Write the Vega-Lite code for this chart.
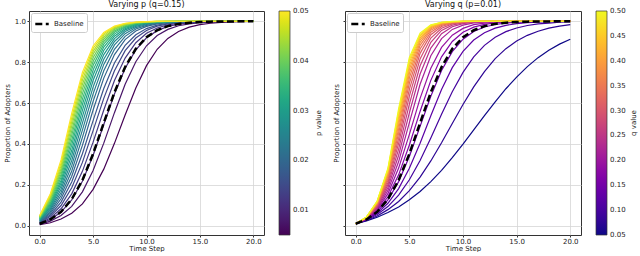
{
"$schema": "https://vega.github.io/schema/vega-lite/v6.json",
"background": "white",
"padding": {"left": 2, "top": 0, "right": 0, "bottom": 0},
"spacing": 9,
"config": {
  "font": "DejaVu Sans",
  "view": {"stroke": "#333333", "strokeWidth": 1},
  "axis": {"labelFontSize": 7, "titleFontSize": 7, "titleFontWeight": "normal", "labelColor": "#222222", "titleColor": "#222222", "tickColor": "#333333", "tickSize": 2, "domain": false, "gridColor": "#d6d6d6", "gridWidth": 0.8, "labelPadding": 1.5, "titlePadding": 2},
  "axisX": {"labelPadding": 0, "titlePadding": 0},
  "title": {"fontSize": 8, "fontWeight": "normal", "color": "#111111", "offset": 2, "anchor": "middle", "frame": "group"}
},
"resolve": {"scale": {"color": "independent", "strokeDash": "independent"}, "legend": {"color": "independent", "strokeDash": "independent"}},
"datasets": {
"B": [
{"s":"Baseline","t":0,"y":0.010},{"s":"Baseline","t":1,"y":0.031},{"s":"Baseline","t":2,"y":0.068},{"s":"Baseline","t":3,"y":0.130},{"s":"Baseline","t":4,"y":0.223},{"s":"Baseline","t":5,"y":0.352},{"s":"Baseline","t":6,"y":0.503},{"s":"Baseline","t":7,"y":0.653},{"s":"Baseline","t":8,"y":0.776},{"s":"Baseline","t":9,"y":0.865},{"s":"Baseline","t":10,"y":0.922},{"s":"Baseline","t":11,"y":0.956},{"s":"Baseline","t":12,"y":0.976},{"s":"Baseline","t":13,"y":0.987},{"s":"Baseline","t":14,"y":0.993},{"s":"Baseline","t":15,"y":0.996},{"s":"Baseline","t":16,"y":0.998},{"s":"Baseline","t":17,"y":0.999},{"s":"Baseline","t":18,"y":0.999},{"s":"Baseline","t":19,"y":1},{"s":"Baseline","t":20,"y":1}
],
"L": [
{"p":0.005,"t":0,"y":0.005},{"p":0.005,"t":1,"y":0.015},{"p":0.005,"t":2,"y":0.033},{"p":0.005,"t":3,"y":0.061},{"p":0.005,"t":4,"y":0.107},{"p":0.005,"t":5,"y":0.178},{"p":0.005,"t":6,"y":0.277},{"p":0.005,"t":7,"y":0.403},{"p":0.005,"t":8,"y":0.542},{"p":0.005,"t":9,"y":0.674},{"p":0.005,"t":10,"y":0.783},{"p":0.005,"t":11,"y":0.863},{"p":0.005,"t":12,"y":0.916},{"p":0.005,"t":13,"y":0.950},{"p":0.005,"t":14,"y":0.971},{"p":0.005,"t":15,"y":0.983},{"p":0.005,"t":16,"y":0.990},{"p":0.005,"t":17,"y":0.994},{"p":0.005,"t":18,"y":0.997},{"p":0.005,"t":19,"y":0.998},{"p":0.005,"t":20,"y":0.999},
{"p":0.0074,"t":0,"y":0.007},{"p":0.0074,"t":1,"y":0.023},{"p":0.0074,"t":2,"y":0.050},{"p":0.0074,"t":3,"y":0.095},{"p":0.0074,"t":4,"y":0.166},{"p":0.0074,"t":5,"y":0.270},{"p":0.0074,"t":6,"y":0.404},{"p":0.0074,"t":7,"y":0.553},{"p":0.0074,"t":8,"y":0.692},{"p":0.0074,"t":9,"y":0.802},{"p":0.0074,"t":10,"y":0.880},{"p":0.0074,"t":11,"y":0.930},{"p":0.0074,"t":12,"y":0.960},{"p":0.0074,"t":13,"y":0.978},{"p":0.0074,"t":14,"y":0.987},{"p":0.0074,"t":15,"y":0.993},{"p":0.0074,"t":16,"y":0.996},{"p":0.0074,"t":17,"y":0.998},{"p":0.0074,"t":18,"y":0.999},{"p":0.0074,"t":19,"y":0.999},{"p":0.0074,"t":20,"y":1},
{"p":0.0097,"t":0,"y":0.010},{"p":0.0097,"t":1,"y":0.031},{"p":0.0097,"t":2,"y":0.067},{"p":0.0097,"t":3,"y":0.126},{"p":0.0097,"t":4,"y":0.218},{"p":0.0097,"t":5,"y":0.344},{"p":0.0097,"t":6,"y":0.495},{"p":0.0097,"t":7,"y":0.644},{"p":0.0097,"t":8,"y":0.770},{"p":0.0097,"t":9,"y":0.860},{"p":0.0097,"t":10,"y":0.919},{"p":0.0097,"t":11,"y":0.954},{"p":0.0097,"t":12,"y":0.975},{"p":0.0097,"t":13,"y":0.986},{"p":0.0097,"t":14,"y":0.992},{"p":0.0097,"t":15,"y":0.996},{"p":0.0097,"t":16,"y":0.998},{"p":0.0097,"t":17,"y":0.999},{"p":0.0097,"t":18,"y":0.999},{"p":0.0097,"t":19,"y":1},{"p":0.0097,"t":20,"y":1},
{"p":0.0121,"t":0,"y":0.012},{"p":0.0121,"t":1,"y":0.038},{"p":0.0121,"t":2,"y":0.083},{"p":0.0121,"t":3,"y":0.156},{"p":0.0121,"t":4,"y":0.266},{"p":0.0121,"t":5,"y":0.409},{"p":0.0121,"t":6,"y":0.566},{"p":0.0121,"t":7,"y":0.710},{"p":0.0121,"t":8,"y":0.820},{"p":0.0121,"t":9,"y":0.895},{"p":0.0121,"t":10,"y":0.941},{"p":0.0121,"t":11,"y":0.967},{"p":0.0121,"t":12,"y":0.982},{"p":0.0121,"t":13,"y":0.990},{"p":0.0121,"t":14,"y":0.995},{"p":0.0121,"t":15,"y":0.997},{"p":0.0121,"t":16,"y":0.999},{"p":0.0121,"t":17,"y":0.999},{"p":0.0121,"t":18,"y":1},{"p":0.0121,"t":19,"y":1},{"p":0.0121,"t":20,"y":1},
{"p":0.0145,"t":0,"y":0.014},{"p":0.0145,"t":1,"y":0.046},{"p":0.0145,"t":2,"y":0.099},{"p":0.0145,"t":3,"y":0.186},{"p":0.0145,"t":4,"y":0.310},{"p":0.0145,"t":5,"y":0.465},{"p":0.0145,"t":6,"y":0.623},{"p":0.0145,"t":7,"y":0.758},{"p":0.0145,"t":8,"y":0.856},{"p":0.0145,"t":9,"y":0.918},{"p":0.0145,"t":10,"y":0.955},{"p":0.0145,"t":11,"y":0.976},{"p":0.0145,"t":12,"y":0.987},{"p":0.0145,"t":13,"y":0.993},{"p":0.0145,"t":14,"y":0.996},{"p":0.0145,"t":15,"y":0.998},{"p":0.0145,"t":16,"y":0.999},{"p":0.0145,"t":17,"y":0.999},{"p":0.0145,"t":18,"y":1},{"p":0.0145,"t":19,"y":1},{"p":0.0145,"t":20,"y":1},
{"p":0.0168,"t":0,"y":0.017},{"p":0.0168,"t":1,"y":0.053},{"p":0.0168,"t":2,"y":0.116},{"p":0.0168,"t":3,"y":0.214},{"p":0.0168,"t":4,"y":0.352},{"p":0.0168,"t":5,"y":0.514},{"p":0.0168,"t":6,"y":0.671},{"p":0.0168,"t":7,"y":0.796},{"p":0.0168,"t":8,"y":0.882},{"p":0.0168,"t":9,"y":0.934},{"p":0.0168,"t":10,"y":0.964},{"p":0.0168,"t":11,"y":0.981},{"p":0.0168,"t":12,"y":0.990},{"p":0.0168,"t":13,"y":0.995},{"p":0.0168,"t":14,"y":0.997},{"p":0.0168,"t":15,"y":0.999},{"p":0.0168,"t":16,"y":0.999},{"p":0.0168,"t":17,"y":1},{"p":0.0168,"t":18,"y":1},{"p":0.0168,"t":19,"y":1},{"p":0.0168,"t":20,"y":1},
{"p":0.0192,"t":0,"y":0.019},{"p":0.0192,"t":1,"y":0.061},{"p":0.0192,"t":2,"y":0.132},{"p":0.0192,"t":3,"y":0.242},{"p":0.0192,"t":4,"y":0.393},{"p":0.0192,"t":5,"y":0.566},{"p":0.0192,"t":6,"y":0.722},{"p":0.0192,"t":7,"y":0.837},{"p":0.0192,"t":8,"y":0.910},{"p":0.0192,"t":9,"y":0.952},{"p":0.0192,"t":10,"y":0.975},{"p":0.0192,"t":11,"y":0.987},{"p":0.0192,"t":12,"y":0.993},{"p":0.0192,"t":13,"y":0.996},{"p":0.0192,"t":14,"y":0.998},{"p":0.0192,"t":15,"y":0.999},{"p":0.0192,"t":16,"y":0.999},{"p":0.0192,"t":17,"y":1},{"p":0.0192,"t":18,"y":1},{"p":0.0192,"t":19,"y":1},{"p":0.0192,"t":20,"y":1},
{"p":0.0216,"t":0,"y":0.022},{"p":0.0216,"t":1,"y":0.068},{"p":0.0216,"t":2,"y":0.148},{"p":0.0216,"t":3,"y":0.268},{"p":0.0216,"t":4,"y":0.432},{"p":0.0216,"t":5,"y":0.608},{"p":0.0216,"t":6,"y":0.758},{"p":0.0216,"t":7,"y":0.863},{"p":0.0216,"t":8,"y":0.926},{"p":0.0216,"t":9,"y":0.962},{"p":0.0216,"t":10,"y":0.980},{"p":0.0216,"t":11,"y":0.990},{"p":0.0216,"t":12,"y":0.995},{"p":0.0216,"t":13,"y":0.998},{"p":0.0216,"t":14,"y":0.998},{"p":0.0216,"t":15,"y":0.999},{"p":0.0216,"t":16,"y":1},{"p":0.0216,"t":17,"y":1},{"p":0.0216,"t":18,"y":1},{"p":0.0216,"t":19,"y":1},{"p":0.0216,"t":20,"y":1},
{"p":0.0239,"t":0,"y":0.024},{"p":0.0239,"t":1,"y":0.076},{"p":0.0239,"t":2,"y":0.163},{"p":0.0239,"t":3,"y":0.294},{"p":0.0239,"t":4,"y":0.468},{"p":0.0239,"t":5,"y":0.645},{"p":0.0239,"t":6,"y":0.789},{"p":0.0239,"t":7,"y":0.884},{"p":0.0239,"t":8,"y":0.939},{"p":0.0239,"t":9,"y":0.969},{"p":0.0239,"t":10,"y":0.984},{"p":0.0239,"t":11,"y":0.993},{"p":0.0239,"t":12,"y":0.996},{"p":0.0239,"t":13,"y":0.998},{"p":0.0239,"t":14,"y":0.999},{"p":0.0239,"t":15,"y":0.999},{"p":0.0239,"t":16,"y":1},{"p":0.0239,"t":17,"y":1},{"p":0.0239,"t":18,"y":1},{"p":0.0239,"t":19,"y":1},{"p":0.0239,"t":20,"y":1},
{"p":0.0263,"t":0,"y":0.026},{"p":0.0263,"t":1,"y":0.083},{"p":0.0263,"t":2,"y":0.179},{"p":0.0263,"t":3,"y":0.319},{"p":0.0263,"t":4,"y":0.502},{"p":0.0263,"t":5,"y":0.678},{"p":0.0263,"t":6,"y":0.814},{"p":0.0263,"t":7,"y":0.901},{"p":0.0263,"t":8,"y":0.950},{"p":0.0263,"t":9,"y":0.975},{"p":0.0263,"t":10,"y":0.987},{"p":0.0263,"t":11,"y":0.994},{"p":0.0263,"t":12,"y":0.997},{"p":0.0263,"t":13,"y":0.999},{"p":0.0263,"t":14,"y":0.999},{"p":0.0263,"t":15,"y":1},{"p":0.0263,"t":16,"y":1},{"p":0.0263,"t":17,"y":1},{"p":0.0263,"t":18,"y":1},{"p":0.0263,"t":19,"y":1},{"p":0.0263,"t":20,"y":1},
{"p":0.0287,"t":0,"y":0.029},{"p":0.0287,"t":1,"y":0.091},{"p":0.0287,"t":2,"y":0.194},{"p":0.0287,"t":3,"y":0.345},{"p":0.0287,"t":4,"y":0.534},{"p":0.0287,"t":5,"y":0.710},{"p":0.0287,"t":6,"y":0.837},{"p":0.0287,"t":7,"y":0.915},{"p":0.0287,"t":8,"y":0.958},{"p":0.0287,"t":9,"y":0.979},{"p":0.0287,"t":10,"y":0.990},{"p":0.0287,"t":11,"y":0.995},{"p":0.0287,"t":12,"y":0.998},{"p":0.0287,"t":13,"y":0.999},{"p":0.0287,"t":14,"y":0.999},{"p":0.0287,"t":15,"y":1},{"p":0.0287,"t":16,"y":1},{"p":0.0287,"t":17,"y":1},{"p":0.0287,"t":18,"y":1},{"p":0.0287,"t":19,"y":1},{"p":0.0287,"t":20,"y":1},
{"p":0.0311,"t":0,"y":0.031},{"p":0.0311,"t":1,"y":0.098},{"p":0.0311,"t":2,"y":0.209},{"p":0.0311,"t":3,"y":0.369},{"p":0.0311,"t":4,"y":0.564},{"p":0.0311,"t":5,"y":0.737},{"p":0.0311,"t":6,"y":0.857},{"p":0.0311,"t":7,"y":0.927},{"p":0.0311,"t":8,"y":0.964},{"p":0.0311,"t":9,"y":0.983},{"p":0.0311,"t":10,"y":0.992},{"p":0.0311,"t":11,"y":0.996},{"p":0.0311,"t":12,"y":0.998},{"p":0.0311,"t":13,"y":0.999},{"p":0.0311,"t":14,"y":1},{"p":0.0311,"t":15,"y":1},{"p":0.0311,"t":16,"y":1},{"p":0.0311,"t":17,"y":1},{"p":0.0311,"t":18,"y":1},{"p":0.0311,"t":19,"y":1},{"p":0.0311,"t":20,"y":1},
{"p":0.0334,"t":0,"y":0.033},{"p":0.0334,"t":1,"y":0.106},{"p":0.0334,"t":2,"y":0.223},{"p":0.0334,"t":3,"y":0.394},{"p":0.0334,"t":4,"y":0.593},{"p":0.0334,"t":5,"y":0.761},{"p":0.0334,"t":6,"y":0.874},{"p":0.0334,"t":7,"y":0.937},{"p":0.0334,"t":8,"y":0.970},{"p":0.0334,"t":9,"y":0.986},{"p":0.0334,"t":10,"y":0.993},{"p":0.0334,"t":11,"y":0.997},{"p":0.0334,"t":12,"y":0.998},{"p":0.0334,"t":13,"y":0.999},{"p":0.0334,"t":14,"y":1},{"p":0.0334,"t":15,"y":1},{"p":0.0334,"t":16,"y":1},{"p":0.0334,"t":17,"y":1},{"p":0.0334,"t":18,"y":1},{"p":0.0334,"t":19,"y":1},{"p":0.0334,"t":20,"y":1},
{"p":0.0358,"t":0,"y":0.036},{"p":0.0358,"t":1,"y":0.113},{"p":0.0358,"t":2,"y":0.238},{"p":0.0358,"t":3,"y":0.418},{"p":0.0358,"t":4,"y":0.619},{"p":0.0358,"t":5,"y":0.784},{"p":0.0358,"t":6,"y":0.888},{"p":0.0358,"t":7,"y":0.946},{"p":0.0358,"t":8,"y":0.974},{"p":0.0358,"t":9,"y":0.988},{"p":0.0358,"t":10,"y":0.995},{"p":0.0358,"t":11,"y":0.997},{"p":0.0358,"t":12,"y":0.999},{"p":0.0358,"t":13,"y":0.999},{"p":0.0358,"t":14,"y":1},{"p":0.0358,"t":15,"y":1},{"p":0.0358,"t":16,"y":1},{"p":0.0358,"t":17,"y":1},{"p":0.0358,"t":18,"y":1},{"p":0.0358,"t":19,"y":1},{"p":0.0358,"t":20,"y":1},
{"p":0.0382,"t":0,"y":0.038},{"p":0.0382,"t":1,"y":0.121},{"p":0.0382,"t":2,"y":0.252},{"p":0.0382,"t":3,"y":0.442},{"p":0.0382,"t":4,"y":0.645},{"p":0.0382,"t":5,"y":0.803},{"p":0.0382,"t":6,"y":0.901},{"p":0.0382,"t":7,"y":0.953},{"p":0.0382,"t":8,"y":0.978},{"p":0.0382,"t":9,"y":0.990},{"p":0.0382,"t":10,"y":0.995},{"p":0.0382,"t":11,"y":0.998},{"p":0.0382,"t":12,"y":0.999},{"p":0.0382,"t":13,"y":1},{"p":0.0382,"t":14,"y":1},{"p":0.0382,"t":15,"y":1},{"p":0.0382,"t":16,"y":1},{"p":0.0382,"t":17,"y":1},{"p":0.0382,"t":18,"y":1},{"p":0.0382,"t":19,"y":1},{"p":0.0382,"t":20,"y":1},
{"p":0.0405,"t":0,"y":0.041},{"p":0.0405,"t":1,"y":0.128},{"p":0.0405,"t":2,"y":0.266},{"p":0.0405,"t":3,"y":0.464},{"p":0.0405,"t":4,"y":0.669},{"p":0.0405,"t":5,"y":0.822},{"p":0.0405,"t":6,"y":0.912},{"p":0.0405,"t":7,"y":0.960},{"p":0.0405,"t":8,"y":0.982},{"p":0.0405,"t":9,"y":0.992},{"p":0.0405,"t":10,"y":0.996},{"p":0.0405,"t":11,"y":0.998},{"p":0.0405,"t":12,"y":0.999},{"p":0.0405,"t":13,"y":1},{"p":0.0405,"t":14,"y":1},{"p":0.0405,"t":15,"y":1},{"p":0.0405,"t":16,"y":1},{"p":0.0405,"t":17,"y":1},{"p":0.0405,"t":18,"y":1},{"p":0.0405,"t":19,"y":1},{"p":0.0405,"t":20,"y":1},
{"p":0.0429,"t":0,"y":0.043},{"p":0.0429,"t":1,"y":0.135},{"p":0.0429,"t":2,"y":0.279},{"p":0.0429,"t":3,"y":0.487},{"p":0.0429,"t":4,"y":0.691},{"p":0.0429,"t":5,"y":0.839},{"p":0.0429,"t":6,"y":0.922},{"p":0.0429,"t":7,"y":0.964},{"p":0.0429,"t":8,"y":0.984},{"p":0.0429,"t":9,"y":0.993},{"p":0.0429,"t":10,"y":0.997},{"p":0.0429,"t":11,"y":0.999},{"p":0.0429,"t":12,"y":0.999},{"p":0.0429,"t":13,"y":1},{"p":0.0429,"t":14,"y":1},{"p":0.0429,"t":15,"y":1},{"p":0.0429,"t":16,"y":1},{"p":0.0429,"t":17,"y":1},{"p":0.0429,"t":18,"y":1},{"p":0.0429,"t":19,"y":1},{"p":0.0429,"t":20,"y":1},
{"p":0.0453,"t":0,"y":0.045},{"p":0.0453,"t":1,"y":0.142},{"p":0.0453,"t":2,"y":0.293},{"p":0.0453,"t":3,"y":0.508},{"p":0.0453,"t":4,"y":0.712},{"p":0.0453,"t":5,"y":0.853},{"p":0.0453,"t":6,"y":0.931},{"p":0.0453,"t":7,"y":0.969},{"p":0.0453,"t":8,"y":0.986},{"p":0.0453,"t":9,"y":0.994},{"p":0.0453,"t":10,"y":0.997},{"p":0.0453,"t":11,"y":0.999},{"p":0.0453,"t":12,"y":0.999},{"p":0.0453,"t":13,"y":1},{"p":0.0453,"t":14,"y":1},{"p":0.0453,"t":15,"y":1},{"p":0.0453,"t":16,"y":1},{"p":0.0453,"t":17,"y":1},{"p":0.0453,"t":18,"y":1},{"p":0.0453,"t":19,"y":1},{"p":0.0453,"t":20,"y":1},
{"p":0.0476,"t":0,"y":0.048},{"p":0.0476,"t":1,"y":0.150},{"p":0.0476,"t":2,"y":0.307},{"p":0.0476,"t":3,"y":0.529},{"p":0.0476,"t":4,"y":0.732},{"p":0.0476,"t":5,"y":0.867},{"p":0.0476,"t":6,"y":0.939},{"p":0.0476,"t":7,"y":0.973},{"p":0.0476,"t":8,"y":0.988},{"p":0.0476,"t":9,"y":0.995},{"p":0.0476,"t":10,"y":0.998},{"p":0.0476,"t":11,"y":0.999},{"p":0.0476,"t":12,"y":1},{"p":0.0476,"t":13,"y":1},{"p":0.0476,"t":14,"y":1},{"p":0.0476,"t":15,"y":1},{"p":0.0476,"t":16,"y":1},{"p":0.0476,"t":17,"y":1},{"p":0.0476,"t":18,"y":1},{"p":0.0476,"t":19,"y":1},{"p":0.0476,"t":20,"y":1},
{"p":0.05,"t":0,"y":0.050},{"p":0.05,"t":1,"y":0.157},{"p":0.05,"t":2,"y":0.322},{"p":0.05,"t":3,"y":0.550},{"p":0.05,"t":4,"y":0.750},{"p":0.05,"t":5,"y":0.879},{"p":0.05,"t":6,"y":0.945},{"p":0.05,"t":7,"y":0.976},{"p":0.05,"t":8,"y":0.990},{"p":0.05,"t":9,"y":0.996},{"p":0.05,"t":10,"y":0.998},{"p":0.05,"t":11,"y":0.999},{"p":0.05,"t":12,"y":1},{"p":0.05,"t":13,"y":1},{"p":0.05,"t":14,"y":1},{"p":0.05,"t":15,"y":1},{"p":0.05,"t":16,"y":1},{"p":0.05,"t":17,"y":1},{"p":0.05,"t":18,"y":1},{"p":0.05,"t":19,"y":1},{"p":0.05,"t":20,"y":1}
],
"R": [
{"q":0.05,"t":0,"y":0.010},{"q":0.05,"t":1,"y":0.024},{"q":0.05,"t":2,"y":0.042},{"q":0.05,"t":3,"y":0.065},{"q":0.05,"t":4,"y":0.092},{"q":0.05,"t":5,"y":0.127},{"q":0.05,"t":6,"y":0.168},{"q":0.05,"t":7,"y":0.216},{"q":0.05,"t":8,"y":0.271},{"q":0.05,"t":9,"y":0.333},{"q":0.05,"t":10,"y":0.399},{"q":0.05,"t":11,"y":0.469},{"q":0.05,"t":12,"y":0.539},{"q":0.05,"t":13,"y":0.606},{"q":0.05,"t":14,"y":0.670},{"q":0.05,"t":15,"y":0.727},{"q":0.05,"t":16,"y":0.778},{"q":0.05,"t":17,"y":0.822},{"q":0.05,"t":18,"y":0.858},{"q":0.05,"t":19,"y":0.888},{"q":0.05,"t":20,"y":0.912},
{"q":0.0737,"t":0,"y":0.010},{"q":0.0737,"t":1,"y":0.026},{"q":0.0737,"t":2,"y":0.048},{"q":0.0737,"t":3,"y":0.079},{"q":0.0737,"t":4,"y":0.119},{"q":0.0737,"t":5,"y":0.172},{"q":0.0737,"t":6,"y":0.238},{"q":0.0737,"t":7,"y":0.317},{"q":0.0737,"t":8,"y":0.406},{"q":0.0737,"t":9,"y":0.500},{"q":0.0737,"t":10,"y":0.593},{"q":0.0737,"t":11,"y":0.679},{"q":0.0737,"t":12,"y":0.754},{"q":0.0737,"t":13,"y":0.817},{"q":0.0737,"t":14,"y":0.866},{"q":0.0737,"t":15,"y":0.903},{"q":0.0737,"t":16,"y":0.931},{"q":0.0737,"t":17,"y":0.951},{"q":0.0737,"t":18,"y":0.966},{"q":0.0737,"t":19,"y":0.976},{"q":0.0737,"t":20,"y":0.983},
{"q":0.0974,"t":0,"y":0.010},{"q":0.0974,"t":1,"y":0.028},{"q":0.0974,"t":2,"y":0.055},{"q":0.0974,"t":3,"y":0.094},{"q":0.0974,"t":4,"y":0.150},{"q":0.0974,"t":5,"y":0.225},{"q":0.0974,"t":6,"y":0.319},{"q":0.0974,"t":7,"y":0.429},{"q":0.0974,"t":8,"y":0.545},{"q":0.0974,"t":9,"y":0.655},{"q":0.0974,"t":10,"y":0.750},{"q":0.0974,"t":11,"y":0.826},{"q":0.0974,"t":12,"y":0.882},{"q":0.0974,"t":13,"y":0.922},{"q":0.0974,"t":14,"y":0.949},{"q":0.0974,"t":15,"y":0.967},{"q":0.0974,"t":16,"y":0.979},{"q":0.0974,"t":17,"y":0.987},{"q":0.0974,"t":18,"y":0.991},{"q":0.0974,"t":19,"y":0.995},{"q":0.0974,"t":20,"y":0.997},
{"q":0.1211,"t":0,"y":0.010},{"q":0.1211,"t":1,"y":0.030},{"q":0.1211,"t":2,"y":0.061},{"q":0.1211,"t":3,"y":0.110},{"q":0.1211,"t":4,"y":0.182},{"q":0.1211,"t":5,"y":0.281},{"q":0.1211,"t":6,"y":0.404},{"q":0.1211,"t":7,"y":0.538},{"q":0.1211,"t":8,"y":0.666},{"q":0.1211,"t":9,"y":0.773},{"q":0.1211,"t":10,"y":0.853},{"q":0.1211,"t":11,"y":0.908},{"q":0.1211,"t":12,"y":0.944},{"q":0.1211,"t":13,"y":0.966},{"q":0.1211,"t":14,"y":0.980},{"q":0.1211,"t":15,"y":0.988},{"q":0.1211,"t":16,"y":0.993},{"q":0.1211,"t":17,"y":0.996},{"q":0.1211,"t":18,"y":0.998},{"q":0.1211,"t":19,"y":0.999},{"q":0.1211,"t":20,"y":0.999},
{"q":0.1447,"t":0,"y":0.010},{"q":0.1447,"t":1,"y":0.031},{"q":0.1447,"t":2,"y":0.067},{"q":0.1447,"t":3,"y":0.126},{"q":0.1447,"t":4,"y":0.216},{"q":0.1447,"t":5,"y":0.339},{"q":0.1447,"t":6,"y":0.486},{"q":0.1447,"t":7,"y":0.633},{"q":0.1447,"t":8,"y":0.759},{"q":0.1447,"t":9,"y":0.851},{"q":0.1447,"t":10,"y":0.912},{"q":0.1447,"t":11,"y":0.950},{"q":0.1447,"t":12,"y":0.972},{"q":0.1447,"t":13,"y":0.984},{"q":0.1447,"t":14,"y":0.991},{"q":0.1447,"t":15,"y":0.995},{"q":0.1447,"t":16,"y":0.997},{"q":0.1447,"t":17,"y":0.999},{"q":0.1447,"t":18,"y":0.999},{"q":0.1447,"t":19,"y":1},{"q":0.1447,"t":20,"y":1},
{"q":0.1684,"t":0,"y":0.010},{"q":0.1684,"t":1,"y":0.033},{"q":0.1684,"t":2,"y":0.073},{"q":0.1684,"t":3,"y":0.142},{"q":0.1684,"t":4,"y":0.249},{"q":0.1684,"t":5,"y":0.395},{"q":0.1684,"t":6,"y":0.559},{"q":0.1684,"t":7,"y":0.711},{"q":0.1684,"t":8,"y":0.826},{"q":0.1684,"t":9,"y":0.901},{"q":0.1684,"t":10,"y":0.946},{"q":0.1684,"t":11,"y":0.971},{"q":0.1684,"t":12,"y":0.985},{"q":0.1684,"t":13,"y":0.992},{"q":0.1684,"t":14,"y":0.996},{"q":0.1684,"t":15,"y":0.998},{"q":0.1684,"t":16,"y":0.999},{"q":0.1684,"t":17,"y":0.999},{"q":0.1684,"t":18,"y":1},{"q":0.1684,"t":19,"y":1},{"q":0.1684,"t":20,"y":1},
{"q":0.1921,"t":0,"y":0.010},{"q":0.1921,"t":1,"y":0.034},{"q":0.1921,"t":2,"y":0.079},{"q":0.1921,"t":3,"y":0.157},{"q":0.1921,"t":4,"y":0.282},{"q":0.1921,"t":5,"y":0.447},{"q":0.1921,"t":6,"y":0.623},{"q":0.1921,"t":7,"y":0.770},{"q":0.1921,"t":8,"y":0.872},{"q":0.1921,"t":9,"y":0.932},{"q":0.1921,"t":10,"y":0.965},{"q":0.1921,"t":11,"y":0.983},{"q":0.1921,"t":12,"y":0.991},{"q":0.1921,"t":13,"y":0.996},{"q":0.1921,"t":14,"y":0.998},{"q":0.1921,"t":15,"y":0.999},{"q":0.1921,"t":16,"y":1},{"q":0.1921,"t":17,"y":1},{"q":0.1921,"t":18,"y":1},{"q":0.1921,"t":19,"y":1},{"q":0.1921,"t":20,"y":1},
{"q":0.2158,"t":0,"y":0.010},{"q":0.2158,"t":1,"y":0.035},{"q":0.2158,"t":2,"y":0.084},{"q":0.2158,"t":3,"y":0.172},{"q":0.2158,"t":4,"y":0.314},{"q":0.2158,"t":5,"y":0.504},{"q":0.2158,"t":6,"y":0.692},{"q":0.2158,"t":7,"y":0.831},{"q":0.2158,"t":8,"y":0.915},{"q":0.2158,"t":9,"y":0.960},{"q":0.2158,"t":10,"y":0.981},{"q":0.2158,"t":11,"y":0.992},{"q":0.2158,"t":12,"y":0.996},{"q":0.2158,"t":13,"y":0.998},{"q":0.2158,"t":14,"y":0.999},{"q":0.2158,"t":15,"y":0.999},{"q":0.2158,"t":16,"y":1},{"q":0.2158,"t":17,"y":1},{"q":0.2158,"t":18,"y":1},{"q":0.2158,"t":19,"y":1},{"q":0.2158,"t":20,"y":1},
{"q":0.2395,"t":0,"y":0.010},{"q":0.2395,"t":1,"y":0.036},{"q":0.2395,"t":2,"y":0.089},{"q":0.2395,"t":3,"y":0.187},{"q":0.2395,"t":4,"y":0.345},{"q":0.2395,"t":5,"y":0.552},{"q":0.2395,"t":6,"y":0.742},{"q":0.2395,"t":7,"y":0.869},{"q":0.2395,"t":8,"y":0.939},{"q":0.2395,"t":9,"y":0.973},{"q":0.2395,"t":10,"y":0.988},{"q":0.2395,"t":11,"y":0.995},{"q":0.2395,"t":12,"y":0.998},{"q":0.2395,"t":13,"y":0.999},{"q":0.2395,"t":14,"y":1},{"q":0.2395,"t":15,"y":1},{"q":0.2395,"t":16,"y":1},{"q":0.2395,"t":17,"y":1},{"q":0.2395,"t":18,"y":1},{"q":0.2395,"t":19,"y":1},{"q":0.2395,"t":20,"y":1},
{"q":0.2632,"t":0,"y":0.010},{"q":0.2632,"t":1,"y":0.037},{"q":0.2632,"t":2,"y":0.093},{"q":0.2632,"t":3,"y":0.200},{"q":0.2632,"t":4,"y":0.375},{"q":0.2632,"t":5,"y":0.595},{"q":0.2632,"t":6,"y":0.782},{"q":0.2632,"t":7,"y":0.897},{"q":0.2632,"t":8,"y":0.955},{"q":0.2632,"t":9,"y":0.981},{"q":0.2632,"t":10,"y":0.992},{"q":0.2632,"t":11,"y":0.997},{"q":0.2632,"t":12,"y":0.999},{"q":0.2632,"t":13,"y":1},{"q":0.2632,"t":14,"y":1},{"q":0.2632,"t":15,"y":1},{"q":0.2632,"t":16,"y":1},{"q":0.2632,"t":17,"y":1},{"q":0.2632,"t":18,"y":1},{"q":0.2632,"t":19,"y":1},{"q":0.2632,"t":20,"y":1},
{"q":0.2868,"t":0,"y":0.010},{"q":0.2868,"t":1,"y":0.038},{"q":0.2868,"t":2,"y":0.098},{"q":0.2868,"t":3,"y":0.212},{"q":0.2868,"t":4,"y":0.403},{"q":0.2868,"t":5,"y":0.634},{"q":0.2868,"t":6,"y":0.816},{"q":0.2868,"t":7,"y":0.918},{"q":0.2868,"t":8,"y":0.966},{"q":0.2868,"t":9,"y":0.987},{"q":0.2868,"t":10,"y":0.995},{"q":0.2868,"t":11,"y":0.998},{"q":0.2868,"t":12,"y":0.999},{"q":0.2868,"t":13,"y":1},{"q":0.2868,"t":14,"y":1},{"q":0.2868,"t":15,"y":1},{"q":0.2868,"t":16,"y":1},{"q":0.2868,"t":17,"y":1},{"q":0.2868,"t":18,"y":1},{"q":0.2868,"t":19,"y":1},{"q":0.2868,"t":20,"y":1},
{"q":0.3105,"t":0,"y":0.010},{"q":0.3105,"t":1,"y":0.039},{"q":0.3105,"t":2,"y":0.101},{"q":0.3105,"t":3,"y":0.223},{"q":0.3105,"t":4,"y":0.428},{"q":0.3105,"t":5,"y":0.667},{"q":0.3105,"t":6,"y":0.843},{"q":0.3105,"t":7,"y":0.934},{"q":0.3105,"t":8,"y":0.974},{"q":0.3105,"t":9,"y":0.990},{"q":0.3105,"t":10,"y":0.996},{"q":0.3105,"t":11,"y":0.999},{"q":0.3105,"t":12,"y":0.999},{"q":0.3105,"t":13,"y":1},{"q":0.3105,"t":14,"y":1},{"q":0.3105,"t":15,"y":1},{"q":0.3105,"t":16,"y":1},{"q":0.3105,"t":17,"y":1},{"q":0.3105,"t":18,"y":1},{"q":0.3105,"t":19,"y":1},{"q":0.3105,"t":20,"y":1},
{"q":0.3342,"t":0,"y":0.010},{"q":0.3342,"t":1,"y":0.039},{"q":0.3342,"t":2,"y":0.105},{"q":0.3342,"t":3,"y":0.233},{"q":0.3342,"t":4,"y":0.453},{"q":0.3342,"t":5,"y":0.697},{"q":0.3342,"t":6,"y":0.864},{"q":0.3342,"t":7,"y":0.946},{"q":0.3342,"t":8,"y":0.980},{"q":0.3342,"t":9,"y":0.993},{"q":0.3342,"t":10,"y":0.997},{"q":0.3342,"t":11,"y":0.999},{"q":0.3342,"t":12,"y":1},{"q":0.3342,"t":13,"y":1},{"q":0.3342,"t":14,"y":1},{"q":0.3342,"t":15,"y":1},{"q":0.3342,"t":16,"y":1},{"q":0.3342,"t":17,"y":1},{"q":0.3342,"t":18,"y":1},{"q":0.3342,"t":19,"y":1},{"q":0.3342,"t":20,"y":1},
{"q":0.3579,"t":0,"y":0.010},{"q":0.3579,"t":1,"y":0.040},{"q":0.3579,"t":2,"y":0.108},{"q":0.3579,"t":3,"y":0.243},{"q":0.3579,"t":4,"y":0.474},{"q":0.3579,"t":5,"y":0.723},{"q":0.3579,"t":6,"y":0.882},{"q":0.3579,"t":7,"y":0.956},{"q":0.3579,"t":8,"y":0.984},{"q":0.3579,"t":9,"y":0.994},{"q":0.3579,"t":10,"y":0.998},{"q":0.3579,"t":11,"y":0.999},{"q":0.3579,"t":12,"y":1},{"q":0.3579,"t":13,"y":1},{"q":0.3579,"t":14,"y":1},{"q":0.3579,"t":15,"y":1},{"q":0.3579,"t":16,"y":1},{"q":0.3579,"t":17,"y":1},{"q":0.3579,"t":18,"y":1},{"q":0.3579,"t":19,"y":1},{"q":0.3579,"t":20,"y":1},
{"q":0.3816,"t":0,"y":0.010},{"q":0.3816,"t":1,"y":0.041},{"q":0.3816,"t":2,"y":0.111},{"q":0.3816,"t":3,"y":0.251},{"q":0.3816,"t":4,"y":0.495},{"q":0.3816,"t":5,"y":0.745},{"q":0.3816,"t":6,"y":0.897},{"q":0.3816,"t":7,"y":0.963},{"q":0.3816,"t":8,"y":0.987},{"q":0.3816,"t":9,"y":0.996},{"q":0.3816,"t":10,"y":0.999},{"q":0.3816,"t":11,"y":1},{"q":0.3816,"t":12,"y":1},{"q":0.3816,"t":13,"y":1},{"q":0.3816,"t":14,"y":1},{"q":0.3816,"t":15,"y":1},{"q":0.3816,"t":16,"y":1},{"q":0.3816,"t":17,"y":1},{"q":0.3816,"t":18,"y":1},{"q":0.3816,"t":19,"y":1},{"q":0.3816,"t":20,"y":1},
{"q":0.4053,"t":0,"y":0.010},{"q":0.4053,"t":1,"y":0.041},{"q":0.4053,"t":2,"y":0.113},{"q":0.4053,"t":3,"y":0.258},{"q":0.4053,"t":4,"y":0.513},{"q":0.4053,"t":5,"y":0.765},{"q":0.4053,"t":6,"y":0.909},{"q":0.4053,"t":7,"y":0.969},{"q":0.4053,"t":8,"y":0.990},{"q":0.4053,"t":9,"y":0.997},{"q":0.4053,"t":10,"y":0.999},{"q":0.4053,"t":11,"y":1},{"q":0.4053,"t":12,"y":1},{"q":0.4053,"t":13,"y":1},{"q":0.4053,"t":14,"y":1},{"q":0.4053,"t":15,"y":1},{"q":0.4053,"t":16,"y":1},{"q":0.4053,"t":17,"y":1},{"q":0.4053,"t":18,"y":1},{"q":0.4053,"t":19,"y":1},{"q":0.4053,"t":20,"y":1},
{"q":0.4289,"t":0,"y":0.010},{"q":0.4289,"t":1,"y":0.042},{"q":0.4289,"t":2,"y":0.116},{"q":0.4289,"t":3,"y":0.265},{"q":0.4289,"t":4,"y":0.530},{"q":0.4289,"t":5,"y":0.782},{"q":0.4289,"t":6,"y":0.919},{"q":0.4289,"t":7,"y":0.973},{"q":0.4289,"t":8,"y":0.991},{"q":0.4289,"t":9,"y":0.997},{"q":0.4289,"t":10,"y":0.999},{"q":0.4289,"t":11,"y":1},{"q":0.4289,"t":12,"y":1},{"q":0.4289,"t":13,"y":1},{"q":0.4289,"t":14,"y":1},{"q":0.4289,"t":15,"y":1},{"q":0.4289,"t":16,"y":1},{"q":0.4289,"t":17,"y":1},{"q":0.4289,"t":18,"y":1},{"q":0.4289,"t":19,"y":1},{"q":0.4289,"t":20,"y":1},
{"q":0.4526,"t":0,"y":0.010},{"q":0.4526,"t":1,"y":0.042},{"q":0.4526,"t":2,"y":0.118},{"q":0.4526,"t":3,"y":0.271},{"q":0.4526,"t":4,"y":0.545},{"q":0.4526,"t":5,"y":0.798},{"q":0.4526,"t":6,"y":0.928},{"q":0.4526,"t":7,"y":0.977},{"q":0.4526,"t":8,"y":0.993},{"q":0.4526,"t":9,"y":0.998},{"q":0.4526,"t":10,"y":0.999},{"q":0.4526,"t":11,"y":1},{"q":0.4526,"t":12,"y":1},{"q":0.4526,"t":13,"y":1},{"q":0.4526,"t":14,"y":1},{"q":0.4526,"t":15,"y":1},{"q":0.4526,"t":16,"y":1},{"q":0.4526,"t":17,"y":1},{"q":0.4526,"t":18,"y":1},{"q":0.4526,"t":19,"y":1},{"q":0.4526,"t":20,"y":1},
{"q":0.4763,"t":0,"y":0.010},{"q":0.4763,"t":1,"y":0.042},{"q":0.4763,"t":2,"y":0.120},{"q":0.4763,"t":3,"y":0.276},{"q":0.4763,"t":4,"y":0.560},{"q":0.4763,"t":5,"y":0.811},{"q":0.4763,"t":6,"y":0.935},{"q":0.4763,"t":7,"y":0.980},{"q":0.4763,"t":8,"y":0.994},{"q":0.4763,"t":9,"y":0.998},{"q":0.4763,"t":10,"y":1},{"q":0.4763,"t":11,"y":1},{"q":0.4763,"t":12,"y":1},{"q":0.4763,"t":13,"y":1},{"q":0.4763,"t":14,"y":1},{"q":0.4763,"t":15,"y":1},{"q":0.4763,"t":16,"y":1},{"q":0.4763,"t":17,"y":1},{"q":0.4763,"t":18,"y":1},{"q":0.4763,"t":19,"y":1},{"q":0.4763,"t":20,"y":1},
{"q":0.5,"t":0,"y":0.010},{"q":0.5,"t":1,"y":0.043},{"q":0.5,"t":2,"y":0.121},{"q":0.5,"t":3,"y":0.281},{"q":0.5,"t":4,"y":0.573},{"q":0.5,"t":5,"y":0.823},{"q":0.5,"t":6,"y":0.942},{"q":0.5,"t":7,"y":0.982},{"q":0.5,"t":8,"y":0.995},{"q":0.5,"t":9,"y":0.999},{"q":0.5,"t":10,"y":1},{"q":0.5,"t":11,"y":1},{"q":0.5,"t":12,"y":1},{"q":0.5,"t":13,"y":1},{"q":0.5,"t":14,"y":1},{"q":0.5,"t":15,"y":1},{"q":0.5,"t":16,"y":1},{"q":0.5,"t":17,"y":1},{"q":0.5,"t":18,"y":1},{"q":0.5,"t":19,"y":1},{"q":0.5,"t":20,"y":1}
]
},
"hconcat": [
{
  "width": 235, "height": 224,
  "title": "Varying p (q=0.15)",
  "layer": [
    {"data": {"name": "L"}, "mark": {"type": "line", "strokeWidth": 1.2},
     "encoding": {
       "x": {"field": "t", "type": "quantitative", "scale": {"domain": [-1, 21], "nice": false, "zero": false}, "axis": {"values": [0, 2.5, 5, 7.5, 10, 12.5, 15, 17.5, 20], "format": ".1f", "title": "Time Step"}},
       "y": {"field": "y", "type": "quantitative", "scale": {"domain": [-0.045, 1.05], "nice": false, "zero": false}, "axis": {"values": [0, 0.2, 0.4, 0.6, 0.8, 1.0], "format": ".1f", "title": "Proportion of Adopters", "titlePadding": 4}},
       "color": {"field": "p", "type": "quantitative", "scale": {"scheme": "viridis", "domain": [0.005, 0.05]},
         "legend": {"type": "gradient", "title": "p value", "orient": "right", "offset": 15, "padding": 0, "gradientLength": 224, "gradientThickness": 11, "values": [0.01, 0.02, 0.03, 0.04, 0.05], "format": ".2f", "labelFontSize": 7, "labelColor": "#222222", "labelOffset": 3, "titleFontSize": 7, "titleFontWeight": "normal", "titleColor": "#222222", "titleOrient": "right", "titleAnchor": "middle", "titlePadding": 6, "gradientStrokeColor": "#333333", "gradientStrokeWidth": 0.7,
           "encode": {"title": {"update": {"angle": {"value": -90}, "baseline": {"value": "top"}}}, "labels": {"update": {"baseline": {"value": "middle"}}}}}}
     }},
    {"data": {"name": "B"}, "mark": {"type": "line", "color": "black", "strokeWidth": 2.5},
     "encoding": {
       "x": {"field": "t", "type": "quantitative"},
       "y": {"field": "y", "type": "quantitative"},
       "strokeDash": {"field": "s", "type": "nominal", "scale": {"domain": ["Baseline"], "range": [[7, 3.5]]},
         "legend": {"orient": "top-left", "offset": 2, "title": null, "padding": 3, "fillColor": "white", "strokeColor": "#cccccc", "cornerRadius": 2, "labelFontSize": 7, "labelColor": "#222222", "symbolType": "stroke", "symbolStrokeWidth": 2.5, "symbolStrokeColor": "black", "symbolSize": 180, "labelOffset": 4}}
     }}
  ]
},
{
  "width": 236, "height": 224,
  "title": "Varying q (p=0.01)",
  "layer": [
    {"data": {"name": "R"}, "mark": {"type": "line", "strokeWidth": 1.2},
     "encoding": {
       "x": {"field": "t", "type": "quantitative", "scale": {"domain": [-1, 21], "nice": false, "zero": false}, "axis": {"values": [0, 2.5, 5, 7.5, 10, 12.5, 15, 17.5, 20], "format": ".1f", "title": "Time Step"}},
       "y": {"field": "y", "type": "quantitative", "scale": {"domain": [-0.045, 1.05], "nice": false, "zero": false}, "axis": {"values": [0, 0.2, 0.4, 0.6, 0.8, 1.0], "labels": false, "title": "Proportion of Adopters", "titlePadding": 3}},
       "color": {"field": "q", "type": "quantitative", "scale": {"scheme": "plasma", "domain": [0.05, 0.5]},
         "legend": {"type": "gradient", "title": "q value", "orient": "right", "offset": 15, "padding": 0, "gradientLength": 224, "gradientThickness": 11, "values": [0.05, 0.1, 0.15, 0.2, 0.25, 0.3, 0.35, 0.4, 0.45, 0.5], "format": ".2f", "labelFontSize": 7, "labelColor": "#222222", "labelOffset": 3, "titleFontSize": 7, "titleFontWeight": "normal", "titleColor": "#222222", "titleOrient": "right", "titleAnchor": "middle", "titlePadding": 4, "gradientStrokeColor": "#333333", "gradientStrokeWidth": 0.7,
           "encode": {"title": {"update": {"angle": {"value": -90}, "baseline": {"value": "top"}}}, "labels": {"update": {"baseline": {"value": "middle"}}}}}}
     }},
    {"data": {"name": "B"}, "mark": {"type": "line", "color": "black", "strokeWidth": 2.5},
     "encoding": {
       "x": {"field": "t", "type": "quantitative"},
       "y": {"field": "y", "type": "quantitative"},
       "strokeDash": {"field": "s", "type": "nominal", "scale": {"domain": ["Baseline"], "range": [[7, 3.5]]},
         "legend": {"orient": "top-left", "offset": 2, "title": null, "padding": 3, "fillColor": "white", "strokeColor": "#cccccc", "cornerRadius": 2, "labelFontSize": 7, "labelColor": "#222222", "symbolType": "stroke", "symbolStrokeWidth": 2.5, "symbolStrokeColor": "black", "symbolSize": 180, "labelOffset": 4}}
     }}
  ]
}
]
}
